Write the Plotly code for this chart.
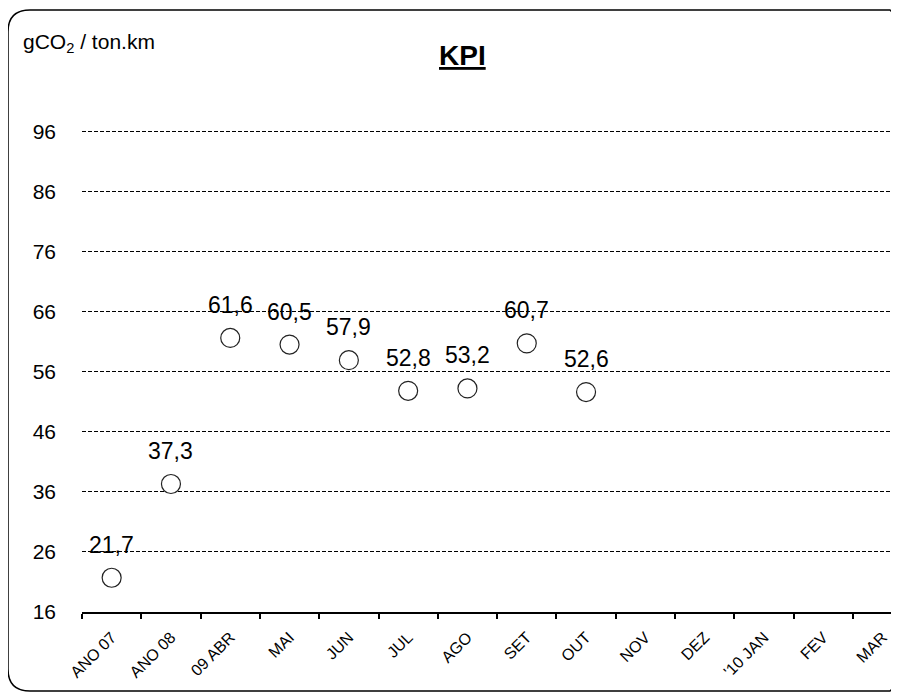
import plotly.graph_objects as go

categories = ["ANO 07", "ANO 08", "09 ABR", "MAI", "JUN", "JUL", "AGO",
              "SET", "OUT", "NOV", "DEZ", "'10 JAN", "FEV", "MAR"]
kpi_values = [21.7, 37.3, 61.6, 60.5, 57.9, 52.8, 53.2, 60.7, 52.6,
              None, None, None, None, None]
y_ticks = [16, 26, 36, 46, 56, 66, 76, 86, 96]

OFF = 8  # page body margin
W, H = 899 - OFF, 695 - OFF
L, R, T, B = 82 - OFF, 899 - OFF, 77 - OFF, 612 - OFF
y_min, y_max = 16, 16 + (B - T) / 6.01

SANS = "Liberation Sans, Arial, sans-serif"

pts_x = [c for c, v in zip(categories, kpi_values) if v is not None]
pts_y = [v for v in kpi_values if v is not None]

fig = go.Figure()
fig.add_trace(go.Scatter(
    x=pts_x, y=pts_y, mode="markers",
    marker=dict(size=19, color="white", line=dict(color="#222222", width=1.2)),
    showlegend=False, hoverinfo="skip", cliponaxis=False,
))

annotations = []
for c, v in zip(pts_x, pts_y):
    annotations.append(dict(
        x=c, y=v, xref="x", yref="y", text=f"{v:.1f}".replace(".", ","),
        showarrow=False, yshift=33, font=dict(family=SANS, size=23, color="black"),
    ))

def px_to_paper(px, py):
    # px, py given in reference (window) pixel coordinates
    return (px - OFF - L) / (R - L), (B - (py - OFF)) / (B - T)

x0, y0, x1, y1, r = 8, 10, 896, 691, 22
def P(px, py):
    a, b = px_to_paper(px, py)
    return f"{a:.5f},{b:.5f}"
path = (f"M {P(x0 + r, y0)} L {P(x1 - 6, y0)} L {P(x1, y0 + 6)} "
        f"L {P(x1, y1 - 6)} L {P(x1 - 6, y1)} L {P(x0 + r, y1)} "
        f"Q {P(x0, y1)} {P(x0, y1 - r)} L {P(x0, y0 + r)} Q {P(x0, y0)} {P(x0 + r, y0)} Z")

annotations.append(dict(
    x=px_to_paper(21, 0)[0], y=px_to_paper(0, 43)[1], xref="paper", yref="paper",
    text="gCO<sub>2</sub> / ton.km", showarrow=False, xanchor="left", yanchor="middle",
    font=dict(family=SANS, size=21, color="black"),
))
annotations.append(dict(
    x=px_to_paper(462, 0)[0], y=px_to_paper(0, 56)[1], xref="paper", yref="paper",
    text="<b><u>KPI</u></b>", showarrow=False, xanchor="center", yanchor="middle",
    font=dict(family=SANS, size=28, color="black"),
))

fig.update_layout(
    width=W, height=H,
    margin=dict(l=L, r=W - R, t=T, b=H - B, autoexpand=False),
    paper_bgcolor="white", plot_bgcolor="white",
    annotations=annotations,
    shapes=[dict(type="path", path=path, xref="paper", yref="paper",
                 line=dict(color="black", width=1.5), layer="above")],
    xaxis=dict(
        type="category", categoryorder="array", categoryarray=categories,
        tickmode="array", tickvals=categories, ticktext=categories,
        range=[-0.5, (R - L) / 59.3 - 0.5],
        tickson="boundaries", ticks="outside", ticklen=5, tickcolor="black", tickwidth=1.5,
        showline=True, linecolor="black", linewidth=1.5, showgrid=False,
        tickangle=-45, tickfont=dict(family=SANS, size=16, color="black"),
        ticklabelstandoff=8, zeroline=False,
    ),
    yaxis=dict(
        range=[y_min, y_max], tickmode="array", tickvals=y_ticks,
        ticktext=[str(t) for t in y_ticks],
        showgrid=True, gridcolor="black", gridwidth=1, griddash="4px,2px",
        showline=False, zeroline=False, ticks="", ticklabelstandoff=25,
        tickfont=dict(family=SANS, size=21, color="black"),
    ),
)

fig.write_html("out.html")
